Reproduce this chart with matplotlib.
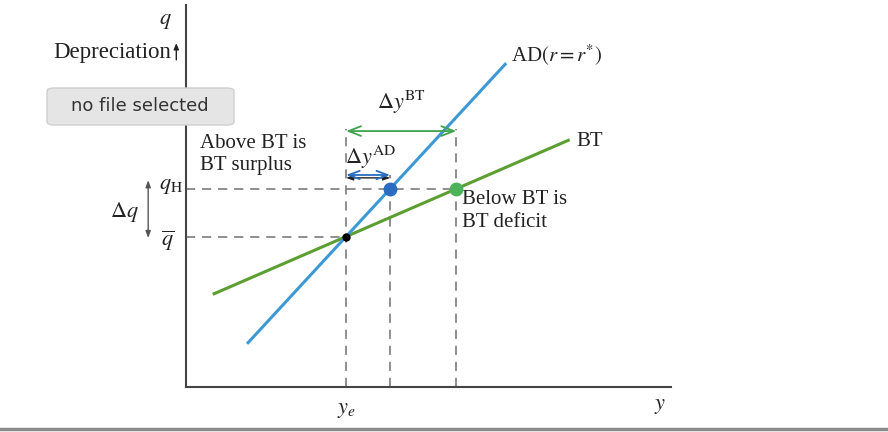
import numpy as np
import matplotlib
matplotlib.use('Agg')
import matplotlib.pyplot as plt
from matplotlib.patches import FancyBboxPatch
from matplotlib.lines import Line2D

plt.rcParams['font.family'] = ['Liberation Serif', 'DejaVu Serif']
plt.rcParams['mathtext.fontset'] = 'stix'

# model values (data units)
y_e = 3.3          # equilibrium output
q_bar = 3.15       # initial real exchange rate
q_H = 4.15         # depreciated exchange rate
ad_slope = 1.1
bt_slope = 0.44
ad_x = [1.28, 6.58]
bt_x = [0.58, 7.88]

BLUE = '#3d98d6'
GREEN = '#5c9e31'
GREEN_ARROW = '#3fa34d'
GREEN_DOT = '#4cb35a'
BLUE_DOT = '#2b6cc0'
DASH = '#707070'

def ad(x):
    return q_bar + ad_slope * (np.asarray(x) - y_e)

def bt(x):
    return q_bar + bt_slope * (np.asarray(x) - y_e)

y_ad_H = y_e + (q_H - q_bar) / ad_slope
y_bt_H = y_e + (q_H - q_bar) / bt_slope

fig = plt.figure(figsize=(8.88, 4.32), dpi=100)
ax = fig.add_axes([186 / 888, 45 / 432, 485 / 888, 382 / 432])
ax.set_xlim(0, 10)
ax.set_ylim(0, 8)
for s in ['top', 'right']:
    ax.spines[s].set_visible(False)
for s in ['left', 'bottom']:
    ax.spines[s].set_color('#444444')
    ax.spines[s].set_linewidth(1.5)
ax.set_xticks([])
ax.set_yticks([])

# dashed guides
dkw = dict(color=DASH, lw=1.1, ls=(0, (6, 4.5)), zorder=1)
ax.plot([0, y_e], [q_bar, q_bar], **dkw)
ax.plot([0, y_bt_H], [q_H, q_H], **dkw)
ax.plot([y_e, y_e], [0, 5.4], **dkw)
ax.plot([y_ad_H, y_ad_H], [0, 4.45], **dkw)
ax.plot([y_bt_H, y_bt_H], [0, 5.4], **dkw)

# curves
ax.plot(ad_x, ad(ad_x), color=BLUE, lw=2.2, zorder=3)
ax.plot(bt_x, bt(bt_x), color=GREEN, lw=2.2, zorder=2)

# points
ax.plot([y_e], [q_bar], 'o', color='black', ms=5, zorder=5)
ax.plot([y_ad_H], [q_H], 'o', color=BLUE_DOT, ms=9, zorder=5)
ax.plot([y_bt_H], [q_H], 'o', color=GREEN_DOT, ms=9, zorder=5)

# delta y arrows
ax.annotate('', xy=(y_e, 5.36), xytext=(y_bt_H, 5.36),
            arrowprops=dict(arrowstyle='<->,head_length=0.9,head_width=0.35',
                            color=GREEN_ARROW, lw=1.3, shrinkA=0, shrinkB=0))
ax.annotate('', xy=(y_e, 4.38), xytext=(y_ad_H, 4.38),
            arrowprops=dict(arrowstyle='<|-|>,head_length=0.4,head_width=0.15',
                            color='#222222', lw=1.0, shrinkA=0, shrinkB=0))
ax.annotate('', xy=(y_e, 4.44), xytext=(y_ad_H, 4.44),
            arrowprops=dict(arrowstyle='<->,head_length=0.8,head_width=0.3',
                            color=BLUE_DOT, lw=1.3, shrinkA=0, shrinkB=0))
# delta q arrow
ax.annotate('', xy=(-0.78, 4.33), xytext=(-0.78, 3.12),
            arrowprops=dict(arrowstyle='<|-|>,head_length=0.4,head_width=0.15',
                            color='#555555', lw=1.0, shrinkA=0, shrinkB=0),
            annotation_clip=False)

fs = 15
tc = '#222222'
ax.text(-0.43, 7.66, '$q$', fontsize=fs + 1, ha='center', va='center', color=tc)
ax.text(-0.3, 7.0, 'Depreciation', fontsize=16.5, ha='right', va='center', color=tc)
ax.annotate('', xy=(-0.2, 7.2), xytext=(-0.2, 6.85),
            arrowprops=dict(arrowstyle='-|>,head_length=0.35,head_width=0.15',
                            color='#222222', lw=1.0, shrinkA=0, shrinkB=0),
            annotation_clip=False)
ax.text(-1.28, 3.66, r'$\Delta q$', fontsize=fs + 1, ha='center', va='center', color=tc)
ax.text(-0.3, 4.2, r'$q_{\mathrm{H}}$', fontsize=fs + 1, ha='center', va='center', color=tc)
ax.text(-0.37, 3.06, r'$\overline{q}$', fontsize=fs + 1, ha='center', va='center', color=tc)
ax.text(y_e, -0.5, r'$y_e$', fontsize=fs + 1, ha='center', va='center', color=tc)
ax.text(9.77, -0.4, r'$y$', fontsize=fs + 1, ha='center', va='center', color=tc)
ax.text(6.7, 6.95, r'AD$(r = r^{*})$', fontsize=fs, ha='left', va='center', color=tc)
ax.text(8.05, 5.15, 'BT', fontsize=fs, ha='left', va='center', color=tc)
ax.text((y_e + y_bt_H) / 2, 5.95, r'$\Delta y^{\mathrm{BT}}$', fontsize=fs + 1,
        ha='center', va='center', color=tc)
ax.text((y_e + y_ad_H) / 2 + 0.05, 4.82, r'$\Delta y^{\mathrm{AD}}$', fontsize=fs + 1,
        ha='center', va='center', color=tc)
ax.text(0.28, 5.3, 'Above BT is\nBT surplus', fontsize=fs, ha='left', va='top',
        color=tc, linespacing=1.25)
ax.text(5.7, 4.12, 'Below BT is\nBT deficit', fontsize=fs, ha='left', va='top',
        color=tc, linespacing=1.25)

# file button overlay
btn = FancyBboxPatch((47 / 888, 1 - 125 / 432), 187 / 888, 37 / 432,
                     boxstyle='round,pad=0,rounding_size=0.008',
                     transform=fig.transFigure, facecolor='#e5e5e5',
                     edgecolor='#cfcfcf', lw=1.0, zorder=10)
fig.patches.append(btn)
fig.text(140 / 888, 1 - 106 / 432, 'no file selected', family='DejaVu Sans',
         fontsize=13, ha='center', va='center', color='#333333', zorder=11)

# bottom rule
fig.add_artist(Line2D([0, 1], [1 - 429 / 432, 1 - 429 / 432], transform=fig.transFigure,
                      color='#8a8a8a', lw=2.5))

fig.savefig('out.png', dpi=100, facecolor='white')
